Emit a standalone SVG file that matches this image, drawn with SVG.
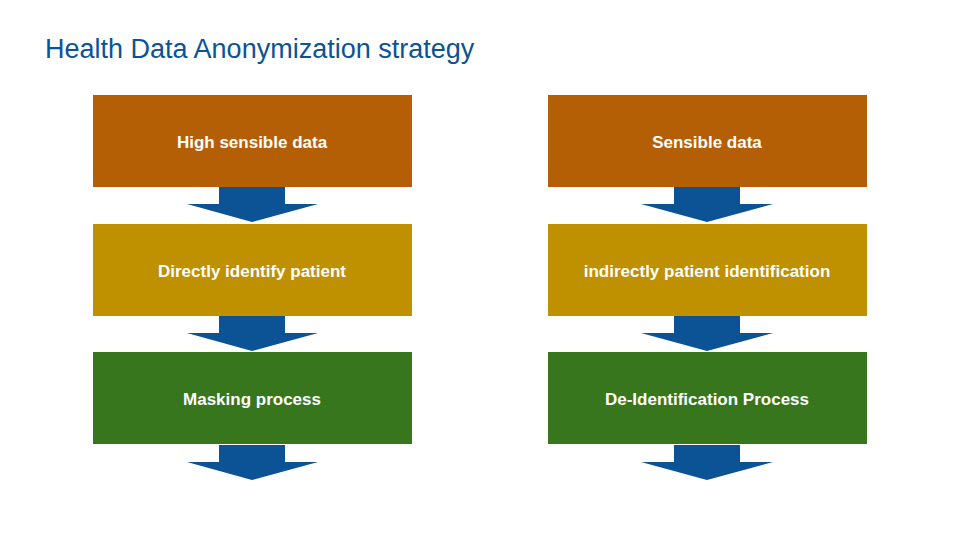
<svg xmlns="http://www.w3.org/2000/svg" width="960" height="540" viewBox="0 0 960 540">
<style>
.t{font-family:"Liberation Sans",Arial,sans-serif;font-size:17px;font-weight:bold;fill:#fff;text-anchor:middle}
.a{fill:#0b5394}
</style>
<rect width="960" height="540" fill="#fff"/>
<text x="45" y="58" font-family="Liberation Sans,Arial,sans-serif" font-size="27" fill="#0b5394">Health Data Anonymization strategy</text>
<g id="connectors">
<path class="a" d="M219 187H285V204H318L252 222L187 204H219Z"/>
<path class="a" d="M219 316H285V333H318L252 351L187 333H219Z"/>
<path class="a" d="M219 445H285V462H318L252 480L187 462H219Z"/>
<path class="a" d="M674 187H740V204H773L707 222L641 204H674Z"/>
<path class="a" d="M674 316H740V333H773L707 351L641 333H674Z"/>
<path class="a" d="M674 445H740V462H773L707 480L641 462H674Z"/>
</g>
<g id="n1"><rect x="93" y="95" width="319" height="92" fill="#b45f06"/><text class="t" x="252" y="148">High sensible data</text></g>
<g id="n2"><rect x="93" y="224" width="319" height="92" fill="#bf9000"/><text class="t" x="252" y="277">Directly identify patient</text></g>
<g id="n3"><rect x="93" y="352" width="319" height="92" fill="#38761d"/><text class="t" x="252" y="405">Masking process</text></g>
<g id="n4"><rect x="548" y="95" width="319" height="92" fill="#b45f06"/><text class="t" x="707" y="148">Sensible data</text></g>
<g id="n5"><rect x="548" y="224" width="319" height="92" fill="#bf9000"/><text class="t" x="707" y="277">indirectly patient identification</text></g>
<g id="n6"><rect x="548" y="352" width="319" height="92" fill="#38761d"/><text class="t" x="707" y="405">De-Identification Process</text></g>
</svg>
